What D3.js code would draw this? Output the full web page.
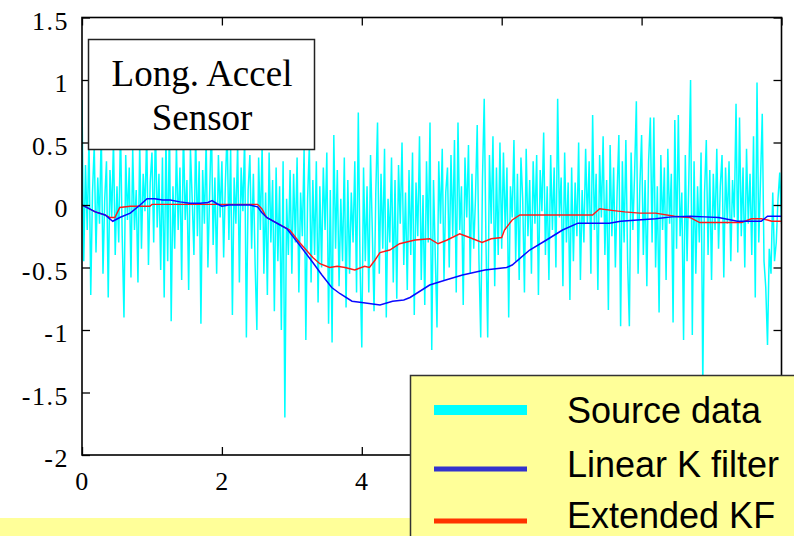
<!DOCTYPE html>
<html>
<head>
<meta charset="utf-8">
<script src="https://cdn.jsdelivr.net/npm/d3@7"></script>
<style>
  html, body { margin: 0; padding: 0; background: #fff; }
  svg { display: block; }
  .axis text { font-family: "Liberation Serif", "Times New Roman", serif; font-size: 26px; fill: #000; letter-spacing: 1.5px; }
  .axis line { stroke: #000; stroke-width: 1.3; }
  .axis path { display: none; }
  .title-text { font-family: "Liberation Serif", "Times New Roman", serif; font-size: 37px; fill: #000; }
  .legend-label { font-family: "Liberation Sans", Arial, sans-serif; font-size: 36px; fill: #000; }
</style>
</head>
<body>
<div id="chart"></div>
<script>
// source data (raw sensor), sampled evenly from t = 0 to t = 10
const sourceData = [
  0.84, -0.45, 0.32, -0.20, 0.55, -0.72, 0.10, 0.48, -0.38, 0.22, -0.15, 0.60, -0.55, 0.05, 0.35, -0.74, 0.28, -0.10, 0.52, -0.40,
  0.15, -0.30, 0.62, -0.25, -0.90, 0.40, -0.12, 0.30, -0.58, 0.45, -0.20, 0.12, -0.62, 0.50, -0.35, 0.25, -0.05, 0.58, -0.48, 0.18,
  0.42, -0.30, 0.65, -0.18, 0.25, -0.52, 0.38, -0.74, 0.55, -0.45, 0.70, -0.93, 0.15, -0.35, 0.48, -0.20, 0.30, -0.60, 0.62, -0.12,
  0.20, -0.68, 0.45, 0.05, -0.40, 0.58, -0.25, 0.35, -0.95, 0.28, -0.15, 0.52, -0.50, 0.10, 0.66, -0.32, 0.22, -0.55, 0.40, -0.10,
  0.35, -0.42, 0.18, 0.60, -0.28, 0.45, -0.88, 0.22, -0.15, 0.50, -0.62, 0.30, -0.05, 0.55, -1.06, 0.12, 0.40, -0.35, 0.25, -0.48,
  -1.00, 0.38, -0.20, 0.48, -0.55, 0.10, -0.72, 0.42, -0.30, 0.20, -0.85, 0.30, -0.45, 0.15, -1.00, 0.35, -1.70, 0.05, -0.40, 0.28,
  -0.55, 0.25, -0.30, 0.38, -0.70, 0.10, -0.25, 0.45, -1.08, 0.05, 0.48, -0.62, 0.20, -0.40, 0.35, -0.78, 0.15, -0.50, 0.30, -0.20,
  0.42, -0.95, 0.12, -1.10, 0.56, -0.35, 0.28, -0.65, 0.05, -0.45, 0.38, -0.82, 0.20, -0.55, 0.10, -0.30, 0.35, -0.70, 0.74, -0.48,
  -1.14, 0.30, -0.45, 0.15, -0.70, 0.40, -0.20, -0.85, 0.10, 0.66, -0.55, 0.25, -0.35, 0.45, -0.90, 0.05, -0.30, 0.38, -0.62, 0.20,
  -0.75, 0.32, -0.15, 0.50, -0.48, 0.10, -0.68, 0.28, -0.40, 0.42, -0.88, 0.18, -0.25, 0.55, -0.60, 0.08, -0.80, 0.35, -0.30, 0.66,
  -1.16, 0.20, -0.40, -0.98, 0.35, -0.15, 0.45, -0.60, 0.10, 0.30, -0.50, 0.40, -0.25, 0.52, -0.70, 0.66, -0.20, 0.15, -0.80, 0.38,
  -0.10, 0.48, -0.55, 0.25, -0.35, 0.05, 0.64, -0.45, -1.06, 0.20, 0.85, -0.30, -1.06, 0.40, -0.15, 0.55, -0.65, 0.30, -0.40, 0.50,
  -0.35, 0.42, -0.20, 0.30, -0.90, 0.15, -0.10, 0.52, -0.45, 0.25, -0.60, 0.38, 0.05, -0.70, 0.45, -0.25, 0.20, -0.55, 0.35, -0.15,
  0.40, -0.72, 0.28, -0.05, 0.58, -0.40, 0.15, -0.60, 0.40, -0.20, 0.30, -0.50, 0.85, -0.10, 0.22, -0.65, 0.42, -0.30, 0.18, -0.76,
  0.30, -0.45, 0.18, -0.25, 0.50, -0.60, 0.12, -0.30, 0.45, -0.15, 0.35, -0.55, 0.72, -0.20, 0.25, -0.68, 0.40, -0.10, 0.55, -0.40,
  0.20, -0.84, 0.48, -0.25, 0.30, -0.50, 0.10, 0.56, -0.97, 0.35, -0.30, 0.52, -0.45, -0.97, 0.42, -0.20, 0.25, 0.83, -0.55, 0.15,
  0.56, -0.40, 0.20, -0.65, 0.35, 0.70, -0.30, 0.70, -0.50, 0.15, -0.86, 0.40, -0.20, 0.30, -0.60, 0.45, -0.15, 0.25, -0.94, 0.68,
  -0.35, 0.72, -0.25, 0.10, -1.08, 0.40, -0.45, 0.20, 1.00, -1.04, 0.35, -0.55, 0.15, -0.30, 0.42, -1.45, 0.10, 0.52, -0.40, 0.28,
  -0.60, 0.25, -0.20, 0.45, -0.35, 0.15, 0.40, -0.58, 0.30, -0.15, 0.35, -0.45, 0.20, -0.10, 0.81, -0.38, 0.70, -0.25, 0.30, -0.50,
  0.45, -0.15, 0.25, -0.40, 0.55, -0.74, 0.98, -0.30, 0.20, 0.73, -0.45, -0.66, -1.12, -0.35, -0.55, 0.10, -0.45, -0.30, 0.05, 0.26,
  -0.15
];

// linear Kalman filter estimate
const linearT = [0, 0.19, 0.33, 0.44, 0.54, 0.69, 0.83, 0.93, 1.04, 1.15, 1.26, 1.4, 1.54, 1.69, 1.8, 1.86, 1.93, 2.0, 2.1, 2.19,
  2.4, 2.51, 2.57, 2.64, 2.8, 2.93, 3.11, 3.3, 3.43, 3.57, 3.69, 3.86, 4.0, 4.26, 4.44, 4.6, 4.69, 4.97, 5.2, 5.44,
  5.6, 5.76, 6.07, 6.15, 6.4, 6.64, 6.87, 7.09, 7.3, 7.54, 7.7, 7.94, 8.2, 8.43, 8.7, 8.9, 9.1, 9.37, 9.71, 9.8, 9.86, 10];
const linearV = [0.0, -0.055, -0.08, -0.13, -0.10, -0.065, 0.0, 0.05, 0.05, 0.04, 0.04, 0.025, 0.015, 0.015, 0.02, 0.035, 0.01, -0.01, 0.0, 0.0,
  0.0, -0.015, -0.06, -0.1, -0.15, -0.19, -0.32, -0.46, -0.56, -0.66, -0.71, -0.77, -0.78, -0.80, -0.77, -0.76, -0.74, -0.64, -0.6, -0.56,
  -0.54, -0.52, -0.50, -0.48, -0.36, -0.28, -0.20, -0.145, -0.145, -0.145, -0.13, -0.12, -0.11, -0.095, -0.09, -0.095, -0.1, -0.13, -0.13, -0.09, -0.09, -0.09];

// extended Kalman filter estimate
const extendedT = [0, 0.19, 0.33, 0.4, 0.47, 0.54, 0.69, 0.97, 1.0, 2.51, 2.57, 2.64, 2.97, 3.11, 3.3, 3.4, 3.54, 3.65, 3.76, 3.9,
  4.04, 4.11, 4.19, 4.26, 4.4, 4.54, 4.76, 4.97, 5.09, 5.22, 5.4, 5.54, 5.72, 5.85, 6.0, 6.04, 6.15, 6.26, 6.6, 7.0,
  7.3, 7.4, 7.6, 7.76, 7.97, 8.2, 8.47, 8.69, 8.83, 9.2, 9.43, 9.57, 9.71, 9.8, 9.86, 10];
const extendedV = [0, -0.055, -0.08, -0.1, -0.1, -0.02, -0.01, -0.01, 0.005, 0.005, -0.03, -0.1, -0.2, -0.3, -0.42, -0.47, -0.5, -0.49, -0.5, -0.52,
  -0.49, -0.5, -0.44, -0.38, -0.36, -0.31, -0.28, -0.27, -0.31, -0.28, -0.23, -0.26, -0.3, -0.27, -0.26, -0.2, -0.12, -0.08, -0.08, -0.08,
  -0.08, -0.03, -0.045, -0.055, -0.065, -0.065, -0.09, -0.1, -0.14, -0.14, -0.14, -0.11, -0.11, -0.12, -0.13, -0.13];

const xTicks = [0, 2, 4, 6, 8, 10];
const xTickLabels = [0, 2, 4];   // 6, 8, 10 sit under the legend box
const yTicks = [-2, -1.5, -1, -0.5, 0, 0.5, 1, 1.5];
const titleLines = ["Long. Accel", "Sensor"];
const legendLabels = ["Source data", "Linear K filter", "Extended KF"];

// --- layout ---
const W = 794, H = 536;
const plotL = 82, plotR = 781.5, plotT = 17.5, plotB = 455;

const svg = d3.select("#chart").append("svg")
  .attr("width", W).attr("height", H);

const x = d3.scaleLinear().domain([0, 10]).range([plotL, plotR]);
const y = d3.scaleLinear().domain([-2, 1.5]).range([plotB, plotT]);

svg.append("clipPath").attr("id", "plot-clip")
  .append("rect").attr("x", plotL).attr("y", plotT)
  .attr("width", plotR - plotL).attr("height", plotB - plotT);

const dt = 10 / (sourceData.length - 1);
const line = d3.line().x(d => x(d[0])).y(d => y(d[1]));

const plot = svg.append("g").attr("clip-path", "url(#plot-clip)");

plot.append("path")
  .datum(sourceData.map((v, i) => [i * dt, v]))
  .attr("d", line)
  .attr("fill", "none").attr("stroke", "#00ffff").attr("stroke-width", 1.5);

plot.append("path")
  .datum(extendedT.map((t, i) => [t, extendedV[i]]))
  .attr("d", line)
  .attr("fill", "none").attr("stroke", "#ff1a1a").attr("stroke-width", 1.4);

plot.append("path")
  .datum(linearT.map((t, i) => [t, linearV[i]]))
  .attr("d", line)
  .attr("fill", "none").attr("stroke", "#0a0aff").attr("stroke-width", 1.5);

// axes (ticks point inward on all four sides)
svg.append("g").attr("class", "axis")
  .attr("transform", `translate(${plotL},0)`)
  .call(d3.axisLeft(y).tickValues(yTicks).tickSize(-8).tickPadding(13).tickFormat(d => String(d)))
  .selectAll("text").attr("dy", "0.45em");

svg.append("g").attr("class", "axis")
  .attr("transform", `translate(${plotR},0)`)
  .call(d3.axisRight(y).tickValues(yTicks).tickSize(-8).tickFormat(""));

svg.append("g").attr("class", "axis")
  .attr("transform", `translate(0,${plotB})`)
  .call(d3.axisBottom(x).tickValues(xTicks).tickSize(-8).tickPadding(17)
    .tickFormat(d => xTickLabels.includes(d) ? String(d) : ""));

svg.append("g").attr("class", "axis")
  .attr("transform", `translate(0,${plotT})`)
  .call(d3.axisTop(x).tickValues(xTicks).tickSize(-8).tickFormat(""));

svg.append("rect")
  .attr("x", plotL).attr("y", plotT)
  .attr("width", plotR - plotL).attr("height", plotB - plotT)
  .attr("fill", "none").attr("stroke", "#000").attr("stroke-width", 1.6);

// title box
svg.append("rect")
  .attr("x", 88.5).attr("y", 39.5).attr("width", 226).attr("height", 110)
  .attr("fill", "#fff").attr("stroke", "#222").attr("stroke-width", 1.5);
svg.selectAll(".title-text").data(titleLines).join("text")
  .attr("class", "title-text")
  .attr("x", 202).attr("y", (d, i) => 86 + i * 44)
  .attr("text-anchor", "middle")
  .text(d => d);

// yellow band + legend
svg.append("rect")
  .attr("x", 0).attr("y", 518).attr("width", 411).attr("height", 20)
  .attr("fill", "#ffff99");

const legend = svg.append("g");
legend.append("rect")
  .attr("x", 410.5).attr("y", 375.5).attr("width", 420).attr("height", 200)
  .attr("fill", "#ffff99").attr("stroke", "#333").attr("stroke-width", 1.5);

const legendColors = ["#00ffff", "#3333cc", "#ff3300"];
const legendWidths = [10, 5, 5];
const legendLineY = [410, 469, 521];
const legendTextY = [423, 477, 528];

legend.selectAll("line").data(legendLabels).join("line")
  .attr("x1", 434).attr("x2", 527)
  .attr("y1", (d, i) => legendLineY[i]).attr("y2", (d, i) => legendLineY[i])
  .attr("stroke", (d, i) => legendColors[i])
  .attr("stroke-width", (d, i) => legendWidths[i]);

legend.selectAll("text").data(legendLabels).join("text")
  .attr("class", "legend-label")
  .attr("x", 567).attr("y", (d, i) => legendTextY[i])
  .text(d => d);
</script>
</body>
</html>
